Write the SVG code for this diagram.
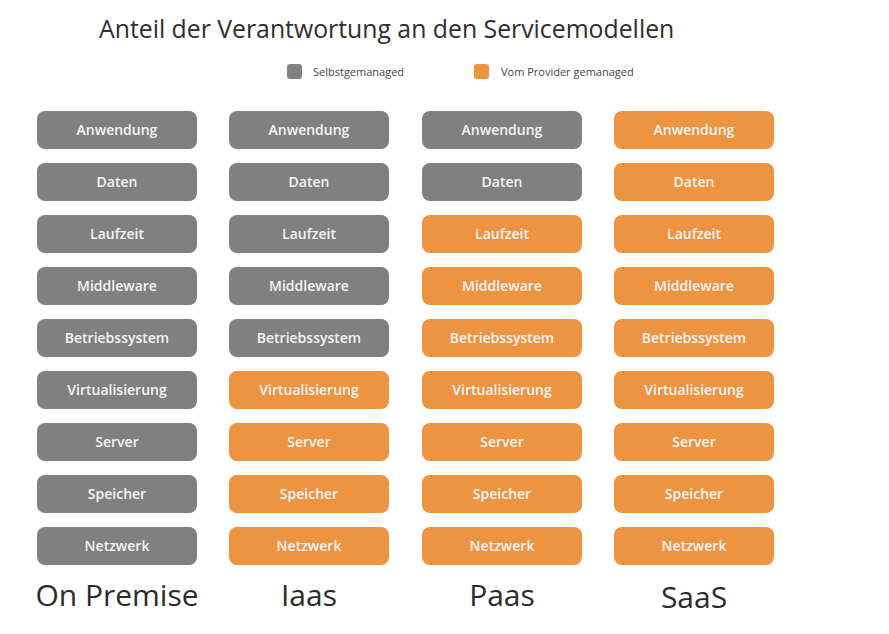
<svg xmlns="http://www.w3.org/2000/svg" width="889" height="634" viewBox="0 0 889 634">
<style>
.bg{fill:#ffffff}
.self use{fill:#808080}
.prov use{fill:#ED9443}
.box text{fill:#f4f4f4;font-family:"Open Sans","Noto Sans",sans-serif;font-weight:600;font-size:14px;text-anchor:middle}
.title{fill:#2e2e2e;font-family:"Open Sans","Noto Sans",sans-serif;font-size:24.8px}
.leg{fill:#444444;font-family:"Open Sans","Noto Sans",sans-serif;font-size:11px}
.col{fill:#2b2b2b;font-family:"Open Sans","Noto Sans",sans-serif;font-size:30px;font-weight:500;text-anchor:middle}
</style>
<defs>
<rect id="b" width="160" height="38" rx="8" ry="8"/>
</defs>
<rect class="bg" width="889" height="634"/>
<text class="title" x="99" y="38">Anteil der Verantwortung an den Servicemodellen</text>
<g id="legend">
<rect x="287" y="64" width="15" height="15" rx="3" fill="#808080"/>
<text class="leg" x="313" y="76">Selbstgemanaged</text>
<rect x="474" y="64" width="15" height="15" rx="3" fill="#ED9443"/>
<text class="leg" x="501" y="76">Vom Provider gemanaged</text>
</g>
<g id="connectors"></g>
<!-- On Premise -->
<g id="op-anwendung" class="box self"><use href="#b" x="37" y="111"/><text x="117" y="135">Anwendung</text></g>
<g id="op-daten" class="box self"><use href="#b" x="37" y="163"/><text x="117" y="187">Daten</text></g>
<g id="op-laufzeit" class="box self"><use href="#b" x="37" y="215"/><text x="117" y="239">Laufzeit</text></g>
<g id="op-middleware" class="box self"><use href="#b" x="37" y="267"/><text x="117" y="291">Middleware</text></g>
<g id="op-betriebssystem" class="box self"><use href="#b" x="37" y="319"/><text x="117" y="343">Betriebssystem</text></g>
<g id="op-virtualisierung" class="box self"><use href="#b" x="37" y="371"/><text x="117" y="395">Virtualisierung</text></g>
<g id="op-server" class="box self"><use href="#b" x="37" y="423"/><text x="117" y="447">Server</text></g>
<g id="op-speicher" class="box self"><use href="#b" x="37" y="475"/><text x="117" y="499">Speicher</text></g>
<g id="op-netzwerk" class="box self"><use href="#b" x="37" y="527"/><text x="117" y="551">Netzwerk</text></g>
<!-- IaaS -->
<g id="iaas-anwendung" class="box self"><use href="#b" x="229" y="111"/><text x="309" y="135">Anwendung</text></g>
<g id="iaas-daten" class="box self"><use href="#b" x="229" y="163"/><text x="309" y="187">Daten</text></g>
<g id="iaas-laufzeit" class="box self"><use href="#b" x="229" y="215"/><text x="309" y="239">Laufzeit</text></g>
<g id="iaas-middleware" class="box self"><use href="#b" x="229" y="267"/><text x="309" y="291">Middleware</text></g>
<g id="iaas-betriebssystem" class="box self"><use href="#b" x="229" y="319"/><text x="309" y="343">Betriebssystem</text></g>
<g id="iaas-virtualisierung" class="box prov"><use href="#b" x="229" y="371"/><text x="309" y="395">Virtualisierung</text></g>
<g id="iaas-server" class="box prov"><use href="#b" x="229" y="423"/><text x="309" y="447">Server</text></g>
<g id="iaas-speicher" class="box prov"><use href="#b" x="229" y="475"/><text x="309" y="499">Speicher</text></g>
<g id="iaas-netzwerk" class="box prov"><use href="#b" x="229" y="527"/><text x="309" y="551">Netzwerk</text></g>
<!-- PaaS -->
<g id="paas-anwendung" class="box self"><use href="#b" x="422" y="111"/><text x="502" y="135">Anwendung</text></g>
<g id="paas-daten" class="box self"><use href="#b" x="422" y="163"/><text x="502" y="187">Daten</text></g>
<g id="paas-laufzeit" class="box prov"><use href="#b" x="422" y="215"/><text x="502" y="239">Laufzeit</text></g>
<g id="paas-middleware" class="box prov"><use href="#b" x="422" y="267"/><text x="502" y="291">Middleware</text></g>
<g id="paas-betriebssystem" class="box prov"><use href="#b" x="422" y="319"/><text x="502" y="343">Betriebssystem</text></g>
<g id="paas-virtualisierung" class="box prov"><use href="#b" x="422" y="371"/><text x="502" y="395">Virtualisierung</text></g>
<g id="paas-server" class="box prov"><use href="#b" x="422" y="423"/><text x="502" y="447">Server</text></g>
<g id="paas-speicher" class="box prov"><use href="#b" x="422" y="475"/><text x="502" y="499">Speicher</text></g>
<g id="paas-netzwerk" class="box prov"><use href="#b" x="422" y="527"/><text x="502" y="551">Netzwerk</text></g>
<!-- SaaS -->
<g id="saas-anwendung" class="box prov"><use href="#b" x="614" y="111"/><text x="694" y="135">Anwendung</text></g>
<g id="saas-daten" class="box prov"><use href="#b" x="614" y="163"/><text x="694" y="187">Daten</text></g>
<g id="saas-laufzeit" class="box prov"><use href="#b" x="614" y="215"/><text x="694" y="239">Laufzeit</text></g>
<g id="saas-middleware" class="box prov"><use href="#b" x="614" y="267"/><text x="694" y="291">Middleware</text></g>
<g id="saas-betriebssystem" class="box prov"><use href="#b" x="614" y="319"/><text x="694" y="343">Betriebssystem</text></g>
<g id="saas-virtualisierung" class="box prov"><use href="#b" x="614" y="371"/><text x="694" y="395">Virtualisierung</text></g>
<g id="saas-server" class="box prov"><use href="#b" x="614" y="423"/><text x="694" y="447">Server</text></g>
<g id="saas-speicher" class="box prov"><use href="#b" x="614" y="475"/><text x="694" y="499">Speicher</text></g>
<g id="saas-netzwerk" class="box prov"><use href="#b" x="614" y="527"/><text x="694" y="551">Netzwerk</text></g>
<g id="labels">
<text class="col" x="117" y="606">On Premise</text>
<text class="col" x="309" y="606">Iaas</text>
<text class="col" x="502" y="606">Paas</text>
<text class="col" x="694" y="608">SaaS</text>
</g>
</svg>
